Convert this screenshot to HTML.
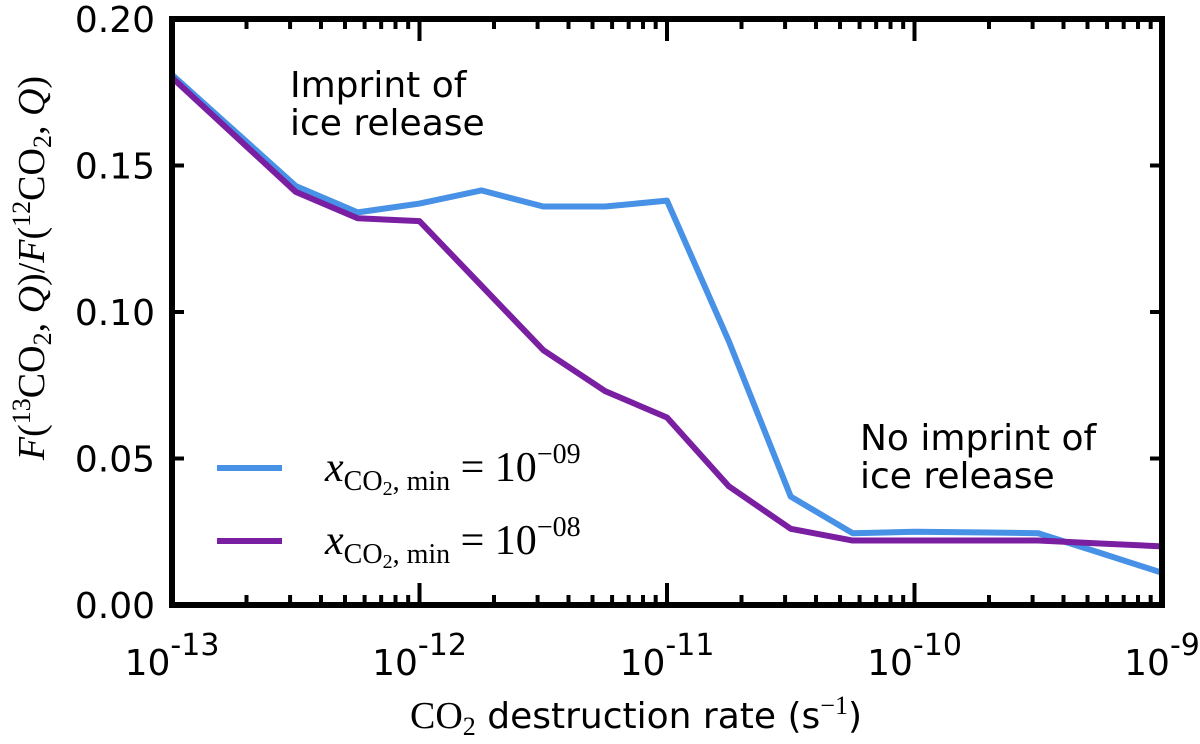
<!DOCTYPE html>
<html><head><meta charset="utf-8"><style>
body{margin:0;background:#fff;}
svg{display:block;}
.t{font-family:"DejaVu Sans","Liberation Sans",sans-serif;font-size:36px;fill:#000;}
.m{font-family:"Liberation Serif","DejaVu Serif",serif;fill:#000;}
</style></head><body>
<svg id="chart" width="1200" height="744" xmlns="http://www.w3.org/2000/svg">
<g id="ticks"></g>
<g id="series"></g>
<rect x="172" y="19" width="990" height="586" fill="none" stroke="#000" stroke-width="6"/>
<text class="t" x="290" y="97" font-size="30">Imprint of</text>
<text class="t" x="290" y="135" font-size="30">ice release</text>
<text class="t" x="860" y="450" font-size="30">No imprint of</text>
<text class="t" x="860" y="488" font-size="30">ice release</text>
<g>
<line x1="217" x2="282" y1="468" y2="468" stroke="#4791e6" stroke-width="6"/>
<text class="m" x="325" y="481" font-size="42"><tspan font-style="italic">x</tspan><tspan font-size="28" dy="9">CO<tspan font-size="20" dy="5">2</tspan><tspan dy="-5">, min</tspan></tspan><tspan dy="-9"> =  10</tspan><tspan font-size="28" dy="-18">−09</tspan></text>
<line x1="217" x2="282" y1="541" y2="541" stroke="#7a1fa2" stroke-width="6"/>
<text class="m" x="325" y="554" font-size="42"><tspan font-style="italic">x</tspan><tspan font-size="28" dy="9">CO<tspan font-size="20" dy="5">2</tspan><tspan dy="-5">, min</tspan></tspan><tspan dy="-9"> =  10</tspan><tspan font-size="28" dy="-18">−08</tspan></text>
</g>
<text x="636" y="728" text-anchor="middle" class="t" font-size="35"><tspan class="m" font-size="38">CO</tspan><tspan class="m" font-size="26" dy="7">2</tspan><tspan dy="-7"> destruction rate (s</tspan><tspan class="m" font-size="26" dy="-14">−1</tspan><tspan dy="14">)</tspan></text>
<text class="m" transform="translate(44,268) rotate(-90)" font-size="38" text-anchor="middle"><tspan font-style="italic">F</tspan>(<tspan font-size="26" dy="-14">13</tspan><tspan dy="14">CO</tspan><tspan font-size="26" dy="7">2</tspan><tspan dy="-7">, </tspan><tspan font-style="italic">Q</tspan>)/<tspan font-style="italic">F</tspan>(<tspan font-size="26" dy="-14">12</tspan><tspan dy="14">CO</tspan><tspan font-size="26" dy="7">2</tspan><tspan dy="-7">, </tspan><tspan font-style="italic">Q</tspan>)</text>
</svg>
<script>
const xExp = [-13,-12.5,-12.25,-12,-11.75,-11.5,-11.25,-11,-10.75,-10.5,-10.25,-10,-9.75,-9.5,-9.25,-9];
const blueVals = [0.181,0.143,0.134,0.137,0.1415,0.136,0.136,0.138,0.090,0.037,0.0245,0.025,0.0248,0.0245,0.0178,0.011];
const purpleVals = [0.180,0.141,0.132,0.131,0.109,0.087,0.073,0.064,0.0405,0.026,0.022,0.022,0.022,0.022,0.021,0.020];
const yTicks = [0,0.05,0.10,0.15,0.20];
const yTickLabels = ["0.00","0.05","0.10","0.15","0.20"];
const xDecades = [-13,-12,-11,-10,-9];
const xDecadeLabels = ["-13","-12","-11","-10","-9"];
const NS="http://www.w3.org/2000/svg";
const X0=172,X1=1162,Y0=605,Y1=19;
function sx(e){return X0+(e+13)/4*(X1-X0);}
function sy(v){return Y0-(v/0.20)*(Y0-Y1);}
const tg=document.getElementById('ticks'), sg=document.getElementById('series');
function ln(x1,y1,x2,y2){const l=document.createElementNS(NS,'line');l.setAttribute('x1',x1);l.setAttribute('y1',y1);l.setAttribute('x2',x2);l.setAttribute('y2',y2);l.setAttribute('stroke','#000');l.setAttribute('stroke-width','4');tg.appendChild(l);return l;}
yTicks.forEach((v,i)=>{
  const y=sy(v);
  const a=ln(X0,y,X0+12,y);
  
  
  const b=ln(X1,y,X1-12,y);
  
  
  const t=document.createElementNS(NS,'text');
  
  
  t.setAttribute('class','t');t.setAttribute('x',155);t.setAttribute('y',y+13);t.setAttribute('text-anchor','end');
  t.textContent=yTickLabels[i];tg.appendChild(t);
});
xDecades.forEach((d,i)=>{
  const x=sx(d);
  const a=ln(x,Y0,x,Y0-22);
  
  
  const b=ln(x,Y1,x,Y1+22);
  
  
  if(i<xDecades.length-1){for(let k=2;k<=9;k++){const mx=sx(d+Math.log10(k));
    const c=ln(mx,Y0,mx,Y0-10);
    
    
    const e=ln(mx,Y1,mx,Y1+10);
    
    }}
  const t=document.createElementNS(NS,'text');
  
  
  t.setAttribute('class','t');t.setAttribute('x',x);t.setAttribute('y',675);t.setAttribute('text-anchor','middle');t.setAttribute('font-size','44');
  t.innerHTML='10<tspan font-size="30" dy="-20">'+xDecadeLabels[i]+'</tspan>';tg.appendChild(t);
});
function series(vals,color,name){
  const p=document.createElementNS(NS,'polyline');
  
  
  p.setAttribute('points',vals.map((v,i)=>sx(xExp[i])+','+sy(v)).join(' '));
  p.setAttribute('fill','none');p.setAttribute('stroke',color);p.setAttribute('stroke-width','6');p.setAttribute('stroke-linejoin','round');
  sg.appendChild(p);
}
series(blueVals,'#4791e6','line-1e-09');
series(purpleVals,'#7a1fa2','line-1e-08');
</script>
</body></html>
